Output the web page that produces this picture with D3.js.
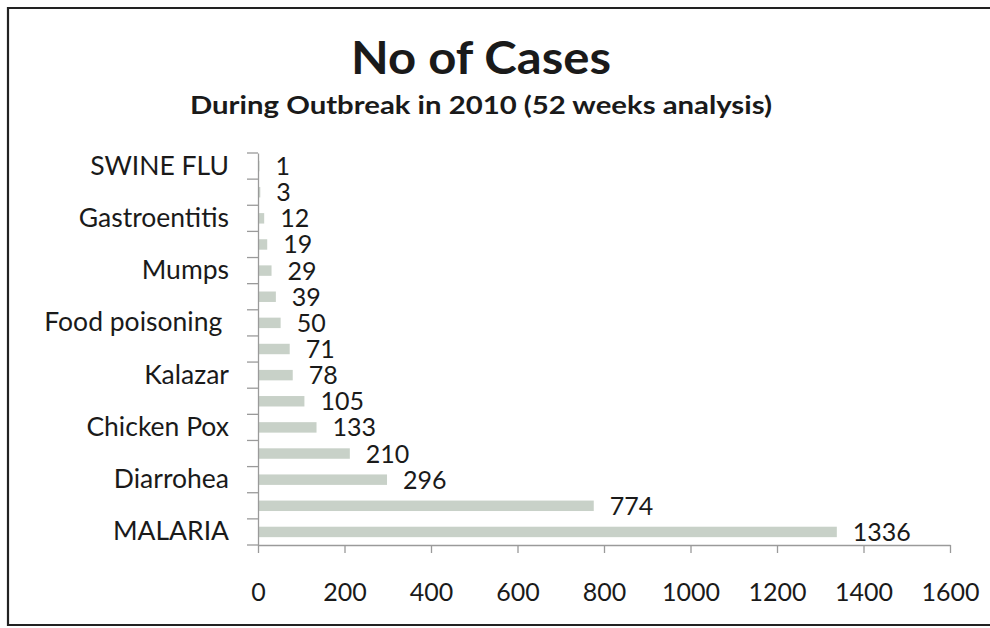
<!DOCTYPE html>
<html>
<head>
<meta charset="utf-8">
<script src="https://cdn.jsdelivr.net/npm/d3@7"></script>
<style>
  html, body { margin: 0; padding: 0; background: #fff; }
  svg { display: block; }
  text { font-family: Lato, "Open Sans", sans-serif; fill: #1a1a1a; }
</style>
</head>
<body>
<svg id="chart" width="990" height="628"></svg>
<script>
// Data (bottom to top, as in the chart)
const categories = ["MALARIA", "", "Diarrohea", "", "Chicken Pox", "", "Kalazar", "",
                    "Food poisoning ", "", "Mumps", "", "Gastroentitis", "", "SWINE FLU"];
const values = [1336, 774, 296, 210, 133, 105, 78, 71, 50, 39, 29, 19, 12, 3, 1];
const xTicks = [0, 200, 400, 600, 800, 1000, 1200, 1400, 1600];
const titleText = "No of Cases";
const subtitleText = "During Outbreak in 2010 (52 weeks analysis)";

const svg = d3.select("#chart");
const W = 990, H = 628;

// frame
svg.append("path")
  .attr("d", `M${W+4},8 H8 V625 H${W+4}`)
  .attr("fill", "none").attr("stroke", "#222").attr("stroke-width", 2.2);

// titles
svg.append("text").attr("x", 481).attr("y", 74)
  .attr("text-anchor", "middle").attr("font-size", 45).attr("font-weight", 700)
  .attr("textLength", 260).attr("lengthAdjust", "spacingAndGlyphs")
  .text(titleText);
svg.append("text").attr("x", 481).attr("y", 114)
  .attr("text-anchor", "middle").attr("font-size", 25).attr("font-weight", 700)
  .attr("textLength", 582).attr("lengthAdjust", "spacingAndGlyphs")
  .text(subtitleText);

const plot = { left: 258, right: 950, top: 153, bottom: 545 };
const idx = d3.range(categories.length);

const x = d3.scaleLinear().domain([0, 1600]).range([plot.left, plot.right]);
const y = d3.scaleBand().domain(idx).range([plot.bottom, plot.top]).paddingInner(0).paddingOuter(0);
const step = y.bandwidth();
const barH = step * 0.4;

// bars
svg.append("g").selectAll("rect").data(idx).join("rect")
  .attr("x", x(0) + 1)
  .attr("y", i => y(i) + (step - barH) / 2)
  .attr("width", i => Math.max(0, x(values[i]) - x(0)))
  .attr("height", barH)
  .attr("fill", "#c8d1c8");

// value labels
svg.append("g").selectAll("text").data(idx).join("text")
  .attr("x", i => x(values[i]) + 17)
  .attr("y", i => y(i) + step / 2)
  .attr("dy", "0.36em")
  .attr("font-size", 25)
  .text(i => values[i]);

// y axis
const yAxis = d3.axisLeft(y).tickSize(0).tickFormat(i => categories[i]).tickPadding(29);
const gy = svg.append("g").attr("transform", `translate(${plot.left},0)`).call(yAxis);
gy.select(".domain").attr("stroke", "#9a9a9a").attr("stroke-width", 1.3);
gy.selectAll("text").attr("font-size", 26.5).attr("fill", "#1a1a1a")
  .style("white-space", "pre").attr("font-family", "Lato, sans-serif");
// boundary ticks on y axis
svg.append("g").selectAll("line").data(d3.range(categories.length + 1)).join("line")
  .attr("x1", plot.left - 11).attr("x2", plot.left)
  .attr("y1", k => plot.bottom - k * step).attr("y2", k => plot.bottom - k * step)
  .attr("stroke", "#9a9a9a").attr("stroke-width", 1.3);

// x axis
const xAxis = d3.axisBottom(x).tickValues(xTicks).tickFormat(d3.format("d"))
  .tickSize(8).tickPadding(30).tickSizeOuter(0);
const gx = svg.append("g").attr("transform", `translate(0,${plot.bottom})`).call(xAxis);
gx.select(".domain").attr("stroke", "#9a9a9a").attr("stroke-width", 1.3);
gx.selectAll(".tick line").attr("stroke", "#9a9a9a").attr("stroke-width", 1.3);
gx.selectAll("text").attr("font-size", 25).attr("fill", "#1a1a1a").attr("font-family", "Lato, sans-serif");
</script>
</body>
</html>
